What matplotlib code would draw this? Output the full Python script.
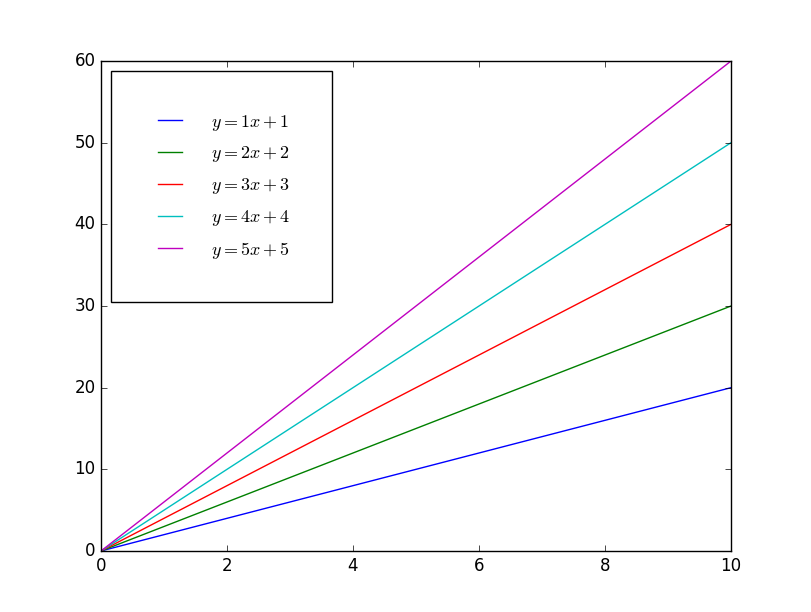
import matplotlib
matplotlib.use("Agg")
import matplotlib.pyplot as plt

plt.style.use("classic")

x = [0, 10]
end_values = [20, 30, 40, 50, 60]
labels = [r"$y = 1x + 1$", r"$y = 2x + 2$", r"$y = 3x + 3$", r"$y = 4x + 4$", r"$y = 5x + 5$"]
colors = ["b", "g", "r", "c", "m"]

fig = plt.figure(figsize=(8.12, 6.12), dpi=100)
ax = fig.add_axes([0.1244, 0.0997, 0.7756, 0.8003])
for y_end, lab, col in zip(end_values, labels, colors):
    ax.plot(x, [0, y_end], color=col, label=lab)

ax.set_xlim(0, 10)
ax.set_ylim(0, 60)
ax.legend(loc="upper left", fontsize=13, borderpad=2.3, borderaxespad=0.55,
          handlelength=1.95, handletextpad=1.27, labelspacing=0.65)

fig.savefig("out.png", dpi=100)
